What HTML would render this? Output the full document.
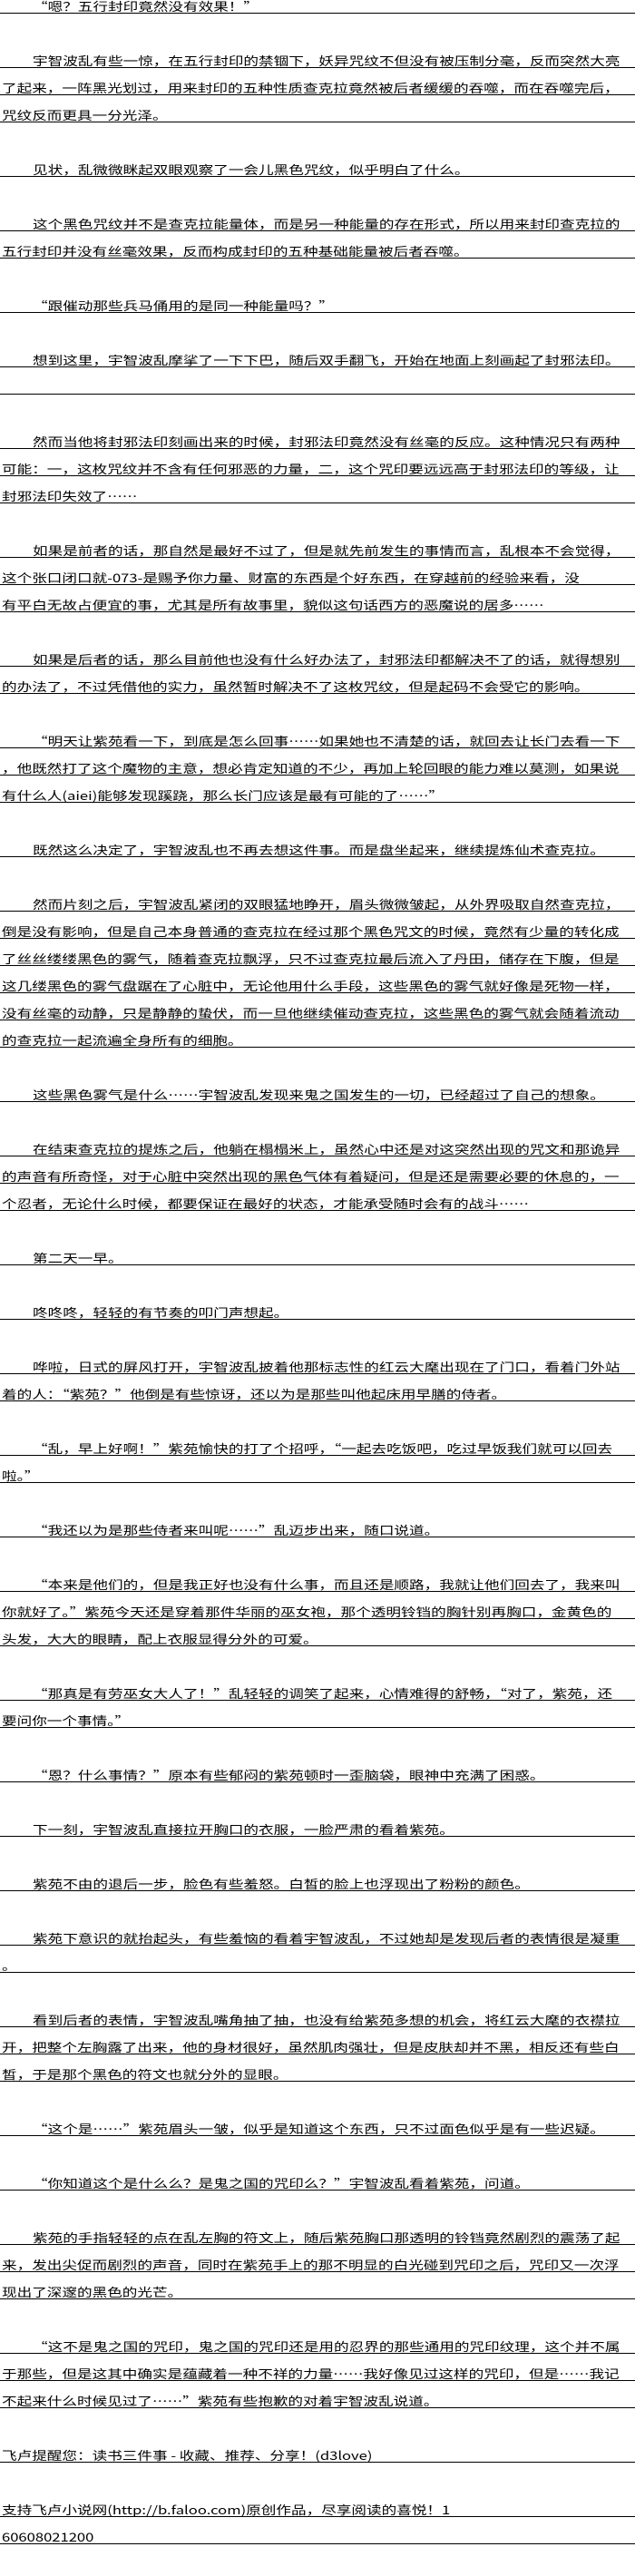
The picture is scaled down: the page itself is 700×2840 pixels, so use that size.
<!DOCTYPE html>
<html><head><meta charset="utf-8">
<style>
html,body{margin:0;padding:0;background:#fff;}
body{width:700px;height:2840px;position:relative;overflow:hidden;}
.r{position:absolute;left:0;width:700px;height:14px;border-bottom:1px solid #000;}
.r span{position:absolute;left:2px;top:0;font-family:"WenQuanYi Zen Hei","Noto Sans CJK SC","Liberation Sans",sans-serif;font-size:13px;line-height:14px;color:#000;white-space:nowrap;transform:scaleX(1.277);transform-origin:0 0;}
.r.i span{left:36px;}
</style></head><body>
<div class="r i" style="top:0px"><span>“嗯？五行封印竟然没有效果！”</span></div>
<div class="r i" style="top:60px"><span>宇智波乱有些一惊，在五行封印的禁锢下，妖异咒纹不但没有被压制分毫，反而突然大亮</span></div>
<div class="r" style="top:90px"><span>了起来，一阵黑光划过，用来封印的五种性质查克拉竟然被后者缓缓的吞噬，而在吞噬完后，</span></div>
<div class="r" style="top:120px"><span>咒纹反而更具一分光泽。</span></div>
<div class="r i" style="top:180px"><span>见状，乱微微眯起双眼观察了一会儿黑色咒纹，似乎明白了什么。</span></div>
<div class="r i" style="top:240px"><span>这个黑色咒纹并不是查克拉能量体，而是另一种能量的存在形式，所以用来封印查克拉的</span></div>
<div class="r" style="top:270px"><span>五行封印并没有丝毫效果，反而构成封印的五种基础能量被后者吞噬。</span></div>
<div class="r i" style="top:330px"><span>“跟催动那些兵马俑用的是同一种能量吗？”</span></div>
<div class="r i" style="top:390px"><span>想到这里，宇智波乱摩挲了一下下巴，随后双手翻飞，开始在地面上刻画起了封邪法印。</span></div>
<div class="r" style="top:420px"><span></span></div>
<div class="r i" style="top:480px"><span>然而当他将封邪法印刻画出来的时候，封邪法印竟然没有丝毫的反应。这种情况只有两种</span></div>
<div class="r" style="top:510px"><span>可能：一，这枚咒纹并不含有任何邪恶的力量，二，这个咒印要远远高于封邪法印的等级，让</span></div>
<div class="r" style="top:540px"><span>封邪法印失效了……</span></div>
<div class="r i" style="top:600px"><span>如果是前者的话，那自然是最好不过了，但是就先前发生的事情而言，乱根本不会觉得，</span></div>
<div class="r" style="top:630px"><span>这个张口闭口就-073-是赐予你力量、财富的东西是个好东西，在穿越前的经验来看，没</span></div>
<div class="r" style="top:660px"><span>有平白无故占便宜的事，尤其是所有故事里，貌似这句话西方的恶魔说的居多……</span></div>
<div class="r i" style="top:720px"><span>如果是后者的话，那么目前他也没有什么好办法了，封邪法印都解决不了的话，就得想别</span></div>
<div class="r" style="top:750px"><span>的办法了，不过凭借他的实力，虽然暂时解决不了这枚咒纹，但是起码不会受它的影响。</span></div>
<div class="r i" style="top:810px"><span>“明天让紫苑看一下，到底是怎么回事……如果她也不清楚的话，就回去让长门去看一下</span></div>
<div class="r" style="top:840px"><span>，他既然打了这个魔物的主意，想必肯定知道的不少，再加上轮回眼的能力难以莫测，如果说</span></div>
<div class="r" style="top:870px"><span>有什么人(aiei)能够发现蹊跷，那么长门应该是最有可能的了……”</span></div>
<div class="r i" style="top:930px"><span>既然这么决定了，宇智波乱也不再去想这件事。而是盘坐起来，继续提炼仙术查克拉。</span></div>
<div class="r i" style="top:990px"><span>然而片刻之后，宇智波乱紧闭的双眼猛地睁开，眉头微微皱起，从外界吸取自然查克拉，</span></div>
<div class="r" style="top:1020px"><span>倒是没有影响，但是自己本身普通的查克拉在经过那个黑色咒文的时候，竟然有少量的转化成</span></div>
<div class="r" style="top:1050px"><span>了丝丝缕缕黑色的雾气，随着查克拉飘浮，只不过查克拉最后流入了丹田，储存在下腹，但是</span></div>
<div class="r" style="top:1080px"><span>这几缕黑色的雾气盘踞在了心脏中，无论他用什么手段，这些黑色的雾气就好像是死物一样，</span></div>
<div class="r" style="top:1110px"><span>没有丝毫的动静，只是静静的蛰伏，而一旦他继续催动查克拉，这些黑色的雾气就会随着流动</span></div>
<div class="r" style="top:1140px"><span>的查克拉一起流遍全身所有的细胞。</span></div>
<div class="r i" style="top:1200px"><span>这些黑色雾气是什么……宇智波乱发现来鬼之国发生的一切，已经超过了自己的想象。</span></div>
<div class="r i" style="top:1260px"><span>在结束查克拉的提炼之后，他躺在榻榻米上，虽然心中还是对这突然出现的咒文和那诡异</span></div>
<div class="r" style="top:1290px"><span>的声音有所奇怪，对于心脏中突然出现的黑色气体有着疑问，但是还是需要必要的休息的，一</span></div>
<div class="r" style="top:1320px"><span>个忍者，无论什么时候，都要保证在最好的状态，才能承受随时会有的战斗……</span></div>
<div class="r i" style="top:1380px"><span>第二天一早。</span></div>
<div class="r i" style="top:1440px"><span>咚咚咚，轻轻的有节奏的叩门声想起。</span></div>
<div class="r i" style="top:1500px"><span>哗啦，日式的屏风打开，宇智波乱披着他那标志性的红云大麾出现在了门口，看着门外站</span></div>
<div class="r" style="top:1530px"><span>着的人：“紫苑？”他倒是有些惊讶，还以为是那些叫他起床用早膳的侍者。</span></div>
<div class="r i" style="top:1590px"><span>“乱，早上好啊！”紫苑愉快的打了个招呼，“一起去吃饭吧，吃过早饭我们就可以回去</span></div>
<div class="r" style="top:1620px"><span>啦。”</span></div>
<div class="r i" style="top:1680px"><span>“我还以为是那些侍者来叫呢……”乱迈步出来，随口说道。</span></div>
<div class="r i" style="top:1740px"><span>“本来是他们的，但是我正好也没有什么事，而且还是顺路，我就让他们回去了，我来叫</span></div>
<div class="r" style="top:1770px"><span>你就好了。”紫苑今天还是穿着那件华丽的巫女袍，那个透明铃铛的胸针别再胸口，金黄色的</span></div>
<div class="r" style="top:1800px"><span>头发，大大的眼睛，配上衣服显得分外的可爱。</span></div>
<div class="r i" style="top:1860px"><span>“那真是有劳巫女大人了！”乱轻轻的调笑了起来，心情难得的舒畅，“对了，紫苑，还</span></div>
<div class="r" style="top:1890px"><span>要问你一个事情。”</span></div>
<div class="r i" style="top:1950px"><span>“恩？什么事情？”原本有些郁闷的紫苑顿时一歪脑袋，眼神中充满了困惑。</span></div>
<div class="r i" style="top:2010px"><span>下一刻，宇智波乱直接拉开胸口的衣服，一脸严肃的看着紫苑。</span></div>
<div class="r i" style="top:2070px"><span>紫苑不由的退后一步，脸色有些羞怒。白皙的脸上也浮现出了粉粉的颜色。</span></div>
<div class="r i" style="top:2130px"><span>紫苑下意识的就抬起头，有些羞恼的看着宇智波乱，不过她却是发现后者的表情很是凝重</span></div>
<div class="r" style="top:2160px"><span>。</span></div>
<div class="r i" style="top:2220px"><span>看到后者的表情，宇智波乱嘴角抽了抽，也没有给紫苑多想的机会，将红云大麾的衣襟拉</span></div>
<div class="r" style="top:2250px"><span>开，把整个左胸露了出来，他的身材很好，虽然肌肉强壮，但是皮肤却并不黑，相反还有些白</span></div>
<div class="r" style="top:2280px"><span>皙，于是那个黑色的符文也就分外的显眼。</span></div>
<div class="r i" style="top:2340px"><span>“这个是……”紫苑眉头一皱，似乎是知道这个东西，只不过面色似乎是有一些迟疑。</span></div>
<div class="r i" style="top:2400px"><span>“你知道这个是什么么？是鬼之国的咒印么？”宇智波乱看着紫苑，问道。</span></div>
<div class="r i" style="top:2460px"><span>紫苑的手指轻轻的点在乱左胸的符文上，随后紫苑胸口那透明的铃铛竟然剧烈的震荡了起</span></div>
<div class="r" style="top:2490px"><span>来，发出尖促而剧烈的声音，同时在紫苑手上的那不明显的白光碰到咒印之后，咒印又一次浮</span></div>
<div class="r" style="top:2520px"><span>现出了深邃的黑色的光芒。</span></div>
<div class="r i" style="top:2580px"><span>“这不是鬼之国的咒印，鬼之国的咒印还是用的忍界的那些通用的咒印纹理，这个并不属</span></div>
<div class="r" style="top:2610px"><span>于那些，但是这其中确实是蕴藏着一种不祥的力量……我好像见过这样的咒印，但是……我记</span></div>
<div class="r" style="top:2640px"><span>不起来什么时候见过了……”紫苑有些抱歉的对着宇智波乱说道。</span></div>
<div class="r" style="top:2700px"><span>飞卢提醒您：读书三件事 - 收藏、推荐、分享！(d3love)</span></div>
<div class="r" style="top:2760px"><span>支持飞卢小说网(http://b.faloo.com)原创作品，尽享阅读的喜悦！1</span></div>
<div class="r" style="top:2790px"><span>60608021200</span></div>
</body></html>
